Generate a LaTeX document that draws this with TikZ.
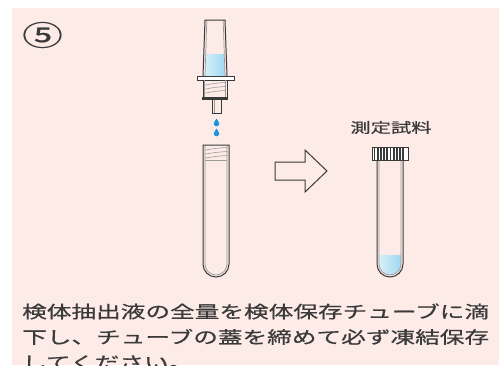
\documentclass[tikz,border=0pt]{standalone}
\usepackage{fontspec}
\newfontfamily\jpfont[FakeStretch=1.45]{Noto Sans CJK JP}
\newfontfamily\jpheavy[FakeStretch=1.45,FakeBold=0.6]{Noto Sans CJK JP}
\definecolor{bgpink}{HTML}{FCEBE7}
\definecolor{ink}{HTML}{3A3A3A}
\definecolor{thread}{HTML}{9A9A9A}
\definecolor{liquid}{HTML}{9FD8F0}
\definecolor{liquidlight}{HTML}{D6F0FA}
\definecolor{dropblue}{HTML}{1B95DD}
\begin{document}
\begin{tikzpicture}[x=1pt,y=-1pt,
  outline/.style={draw=ink,line width=1pt},
  innerline/.style={draw=thread,line width=0.7pt},
  threadline/.style={draw=thread,line width=0.6pt},
  caption/.style={inner sep=0pt,text=ink,font=\jpheavy\fontsize{17pt}{17pt}\selectfont},
  drop/.style={fill=dropblue}]
\useasboundingbox (0,0) rectangle (499,365);
\clip (0,0) rectangle (499,365);
\fill[white] (0,0) rectangle (499,365);
\fill[bgpink] (12,8) rectangle (499,365);

% step number
\node[inner sep=0pt,text=ink,font=\jpheavy\fontsize{28pt}{28pt}\selectfont] (num) at (42.5,35) {⑤};

% ---- dropper: barrel with extract ----
\shade[left color=liquidlight,right color=liquid] (206.2,54) -- (223.8,54) -- (225.2,76) -- (204.8,76) -- cycle;
\draw[innerline] (206.8,20) -- (205,76);
\draw[innerline] (223.2,20) -- (225,76);
\draw[outline] (203,76) -- (205,20) -- (225,20) -- (227,76);
% flange
\filldraw[outline,fill=white] (197,76) rectangle (234,80);
% threaded part
\draw[outline] (203,80) -- (203,97);
\draw[outline] (227,80) -- (227,97);
\draw[innerline] (204.8,80) -- (204.8,97);
\draw[innerline] (225.2,80) -- (225.2,97);
\foreach \ty in {84,88,92}
  \draw[threadline] (205,\ty+1.2) .. controls (212,\ty-0.5) and (218,\ty-1) .. (225,\ty-1.5);
\fill[ink] (202,96.5) rectangle (228,99.5);
% nozzle
\draw[outline] (212,99.5) -- (212,113) -- (221,113) -- (221,99.5);
\draw[innerline] (214,99.5) -- (214,112.5);

% drops
\foreach \dy in {123.5,133.5}
  \fill[drop] (216.5,\dy-5) .. controls (217.2,\dy-3) and (219.3,\dy-1.8) .. (219.3,\dy)
    arc[start angle=0,end angle=180,radius=2.8]
    .. controls (213.7,\dy-1.8) and (215.8,\dy-3) .. cycle;

% ---- storage tube (open) ----
\draw[innerline] (205,146) -- (205,264) arc[start angle=180,end angle=0,radius=11] -- (227,146);
\draw[outline] (203,145) -- (203,264) arc[start angle=180,end angle=0,radius=13] -- (229,145) -- cycle;
\foreach \ty in {149,153,157}
  \draw[threadline] (205,\ty+1.2) .. controls (212,\ty-0.3) and (219,\ty-1) .. (227,\ty-1.5);
\draw[threadline] (205,160) -- (227,160);

% ---- hollow arrow ----
\draw[outline,line join=miter] (275,162) -- (305,162) -- (305,150) -- (327,171)
  -- (305,192) -- (305,180) -- (275,180) -- cycle;

% ---- sealed tube with sample ----
\node[inner sep=0pt,text=ink,font=\jpheavy\fontsize{14pt}{14pt}\selectfont] (label) at (391,127.5) {測定試料};
\shade[left color=liquidlight,right color=liquid]
  (379,255) -- (379,264) arc[start angle=180,end angle=0,radius=11] -- (401,255) -- cycle;
\draw[innerline] (379,160) -- (379,264) arc[start angle=180,end angle=0,radius=11] -- (401,160);
\draw[outline] (377,160) -- (377,264) arc[start angle=180,end angle=0,radius=13] -- (403,160);
% cap
\fill[white] (372,147) rectangle (408,160);
\foreach \cx in {374.5,377.7,...,406}
  \draw[ink,line width=1.7pt] (\cx,147) -- (\cx,160);
\draw[outline] (372,147) rectangle (408,160);

% ---- instructions ----
\node[caption,anchor=base west] (line1) at (22,318) {検体抽出液の全量を検体保存チューブに滴};
\node[caption,anchor=base west] (line2) at (22,343.5) {下し、チューブの蓋を締めて必ず凍結保存};
\node[caption,anchor=base west] (line3) at (22,369) {してください。};
\end{tikzpicture}
\end{document}
